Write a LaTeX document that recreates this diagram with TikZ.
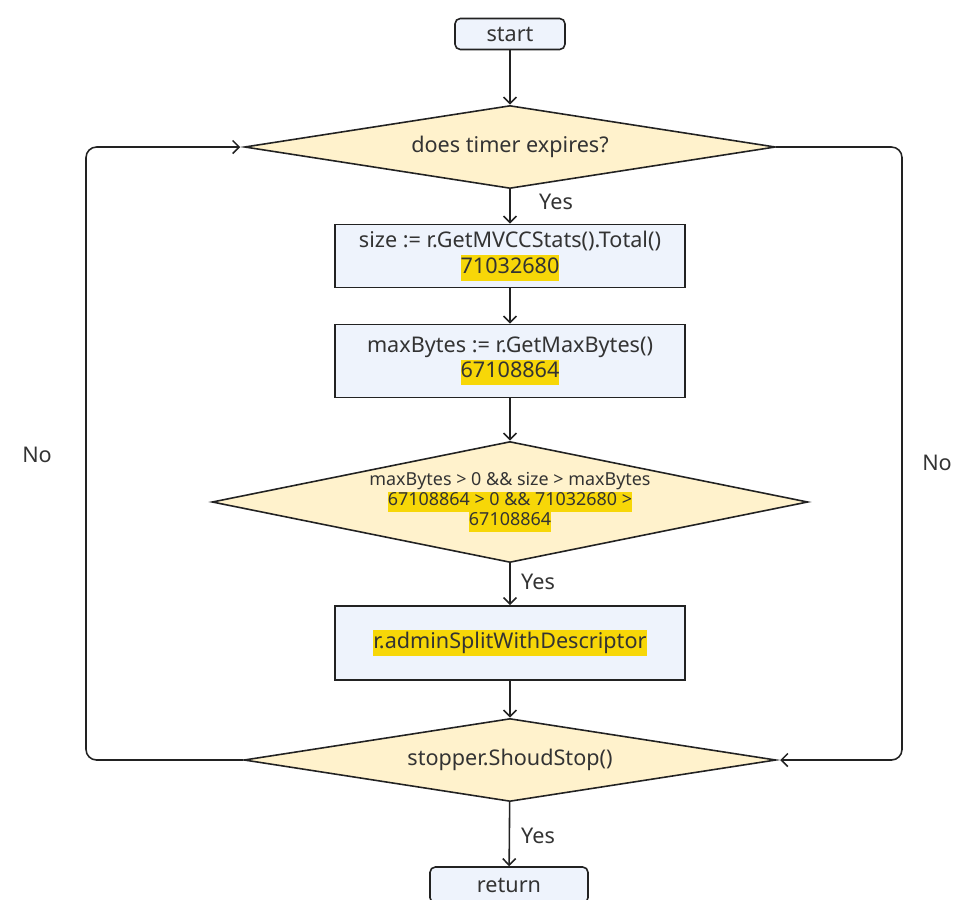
\documentclass[tikz,border=0pt]{standalone}
\usepackage{fontspec}
\setmainfont{Noto Sans}
\usetikzlibrary{shapes.geometric, arrows.meta}

\definecolor{boxblue}{HTML}{EEF3FC}
\definecolor{decisionyellow}{HTML}{FFF2CC}
\definecolor{hlyellow}{HTML}{F7D708}
\definecolor{linegray}{HTML}{222222}
\definecolor{textgray}{HTML}{333333}

\newcommand{\hlval}[1]{{\setlength{\fboxsep}{0pt}\colorbox{hlyellow}{\strut #1}}}

\tikzset{
  base/.style={draw=linegray, line width=0.9pt, text=textgray, font=\fontsize{12.3}{14.5}\selectfont, align=center},
  terminal/.style={base, fill=boxblue, rounded corners=3pt},
  process/.style={base, fill=boxblue, minimum width=7cm},
  decision/.style={base, diamond, fill=decisionyellow, inner sep=0pt, aspect=5},
  flow/.style={-{Straight Barb[length=1.3mm, width=2.6mm]}, draw=linegray, line width=0.9pt},
  lbl/.style={text=textgray, font=\fontsize{12.3}{14.5}\selectfont}
}

\begin{document}
\begin{tikzpicture}[x=0.02cm, y=-0.02cm]
  \useasboundingbox (0,0) rectangle (975,900);

  \node[terminal, minimum width=2.2cm, minimum height=0.62cm] (start) at (510,34) {start};
  \node[decision, minimum width=10.62cm, minimum height=1.66cm] (timer) at (510,147) {does timer expires?};
  \node[process, minimum height=1.26cm] (size) at (510,256)
    {size := r.GetMVCCStats().Total()\\\hlval{71032680}};
  \node[process, minimum height=1.46cm] (maxb) at (510,361)
    {maxBytes := r.GetMaxBytes()\\\hlval{67108864}};
  \node[decision, minimum width=11.92cm, minimum height=2.42cm,
        font=\fontsize{10.2}{11.4}\selectfont] (check) at (510,502)
    {maxBytes > 0 \&\& size > maxBytes\\\hlval{67108864 > 0 \&\& 71032680 >}\\\hlval{67108864}};
  \node[process, minimum height=1.48cm] (split) at (510,643) {\hlval{r.adminSplitWithDescriptor}};
  \node[decision, minimum width=10.64cm, minimum height=1.66cm] (stop) at (510,760) {stopper.ShoudStop()};
  \node[terminal, minimum width=3.16cm, minimum height=0.72cm] (ret) at (509,885) {return};

  \foreach \a/\b in {start/timer, timer/size, size/maxb, maxb/check, check/split, split/stop, stop/ret}
    \draw[flow] (\a) -- (\b);

  % loops back
  \draw[flow, rounded corners=6pt, shorten >=2pt] (stop.west) -- (86,760) -- (86,147) -- (timer.west);
  \draw[flow, rounded corners=6pt, shorten >=2pt] (timer.east) -- (902,147) -- (902,760) -- (stop.east);

  \foreach \x/\y/\t in {556/202/Yes, 538/582/Yes, 538/836/Yes, 37/455/No, 937/463/No}
    \node[lbl] at (\x,\y) {\t};
\end{tikzpicture}
\end{document}
